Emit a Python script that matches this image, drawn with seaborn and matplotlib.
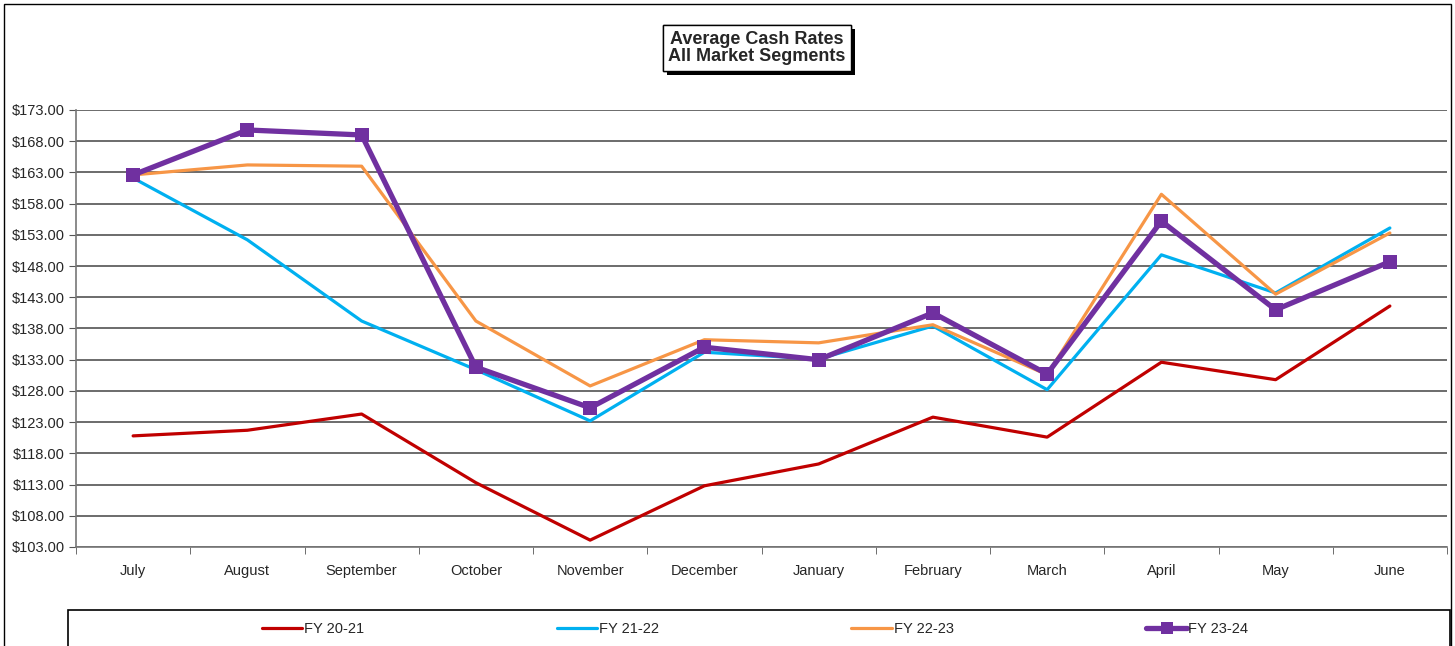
import pandas as pd
import seaborn as sns
import matplotlib.pyplot as plt
import matplotlib.patheffects as pe
from matplotlib.patches import Rectangle
from matplotlib.ticker import FuncFormatter, FixedLocator

# ------------------- Data -------------------
months = ["July", "August", "September", "October", "November", "December",
          "January", "February", "March", "April", "May", "June"]
fy_20_21 = [120.8, 121.7, 124.3, 113.3, 104.1, 112.8, 116.3, 123.8, 120.6, 132.6, 129.8, 141.6]
fy_21_22 = [162.1, 152.2, 139.2, 131.4, 123.2, 134.2, 133.1, 138.4, 128.2, 149.8, 143.7, 154.1]
fy_22_23 = [162.6, 164.2, 164.0, 139.2, 128.8, 136.2, 135.7, 138.6, 130.6, 159.5, 143.5, 153.3]
fy_23_24 = [162.6, 169.8, 169.0, 131.8, 125.3, 135.0, 133.0, 140.5, 130.7, 155.2, 141.0, 148.7]
y_ticks = [103, 108, 113, 118, 123, 128, 133, 138, 143, 148, 153, 158, 163, 168, 173]

series = {"FY 20-21": fy_20_21, "FY 21-22": fy_21_22,
          "FY 22-23": fy_22_23, "FY 23-24": fy_23_24}
colors = {"FY 20-21": "#C00000", "FY 21-22": "#00B0F0",
          "FY 22-23": "#F79646", "FY 23-24": "#7030A0"}

df = pd.DataFrame({"month": months * 4,
                   "rate": fy_20_21 + fy_21_22 + fy_22_23 + fy_23_24,
                   "fy": sum([[k] * 12 for k in series], [])})
df["pos"] = df["month"].map({m: i for i, m in enumerate(months)})

# ------------------- Plot -------------------
sns.set_style("white")
plt.rcParams["font.family"] = ["Liberation Sans", "DejaVu Sans"]

fig = plt.figure(figsize=(14.55, 6.46), dpi=100)
ax = fig.add_axes([76 / 1455, 1 - 547 / 646, (1447 - 76) / 1455, (547 - 110) / 646])

for name in series:
    d = df[df["fy"] == name]
    if name == "FY 23-24":
        sns.lineplot(data=d, x="pos", y="rate", ax=ax, color=colors[name], lw=3.8,
                     marker="s", markersize=10, markeredgewidth=0, label=name, sort=False)
    else:
        sns.lineplot(data=d, x="pos", y="rate", ax=ax, color=colors[name], lw=2.3,
                     label=name, sort=False)

ax.set_xlim(-0.5, 11.5)
ax.set_ylim(103, 173)
ax.set_yticks(y_ticks)
ax.yaxis.set_major_formatter(FuncFormatter(lambda v, p: f"${v:,.2f}"))
ax.set_xticks(range(12))
ax.set_xticklabels(months)
ax.xaxis.set_minor_locator(FixedLocator([i + 0.5 for i in range(-1, 12)]))
ax.tick_params(axis="x", which="major", length=0, pad=12, labelsize=10.5)
ax.tick_params(axis="x", which="minor", length=5, color="#555555", direction="out", bottom=True)
ax.tick_params(axis="y", length=5, color="#555555", direction="out", left=True, labelsize=10.5, pad=3)
ax.grid(axis="y", color="#444444", lw=1.1)
ax.set_axisbelow(True)
for s in ["top", "right"]:
    ax.spines[s].set_visible(False)
for s in ["left", "bottom"]:
    ax.spines[s].set_color("#777777")
    ax.spines[s].set_linewidth(1.2)
ax.set_xlabel("")
ax.set_ylabel("")

handles, labels = ax.get_legend_handles_labels()
ax.get_legend().remove()
fig.legend(handles, labels, loc="center", ncol=4, frameon=False, fontsize=10.5,
           bbox_to_anchor=(755 / 1455, 1 - 629 / 646),
           columnspacing=13.2, handlelength=2.8, handletextpad=0.1, markerscale=0.8)

# legend box and outer border
fig.patches.append(Rectangle((68 / 1455, -0.05), (1450 - 68) / 1455, 0.05 + 1 - 610 / 646,
                             transform=fig.transFigure, fill=False, ec="black", lw=1.2))
fig.patches.append(Rectangle((4 / 1455, -0.05), (1451 - 4) / 1455, 1.05 - 4 / 646,
                             transform=fig.transFigure, fill=False, ec="black", lw=1.0))

t = fig.text(757 / 1455, 1 - 48 / 646, "Average Cash Rates\nAll Market Segments",
             ha="center", va="center", fontsize=13, fontweight="bold", linespacing=1.05,
             bbox=dict(boxstyle="square,pad=0.3", fc="white", ec="black", lw=1))
t.get_bbox_patch().set_path_effects([pe.withSimplePatchShadow(offset=(3, -3), shadow_rgbFace="black", alpha=1),
                                     pe.Normal()])

fig.savefig("out.png", dpi=100)
